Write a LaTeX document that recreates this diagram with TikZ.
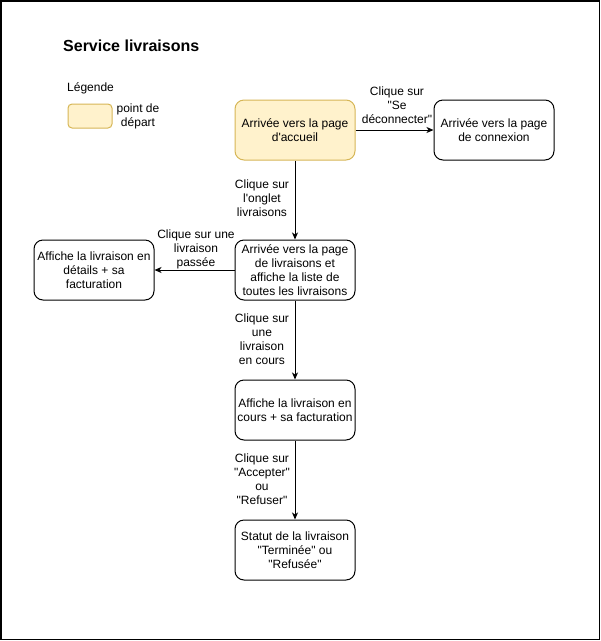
\documentclass[tikz,border=0pt]{standalone}
\usepackage{fontspec}
\setmainfont{Liberation Sans}
\usetikzlibrary{arrows.meta}
\definecolor{startfill}{HTML}{FFF2CC}
\definecolor{startdraw}{HTML}{D6B656}
\newcommand{\dq}{\textquotedbl}
\newcommand{\sq}{\textquotesingle}
\begin{document}
\begin{tikzpicture}[x=1pt,y=-1pt,
  every node/.style={font=\fontsize{12}{14}\selectfont, inner sep=0pt, align=center},
  box/.style={draw, line width=1pt, rounded corners=9pt, minimum width=120pt, minimum height=60pt},
  startbox/.style={box, fill=startfill, draw=startdraw},
  conn/.style={draw, line width=1pt, -{Stealth[length=7pt,width=6pt,inset=2pt]}},
  lbl/.style={font=\fontsize{12}{14}\selectfont}
]
\useasboundingbox (0,0) rectangle (601,641);
\draw[line width=1.5pt] (1,1) rectangle (599.5,639.5);

\node[font=\bfseries\fontsize{16}{19}\selectfont, anchor=west] (title) at (63,46) {Service livraisons};
\node[anchor=west] (leg) at (67,88) {Légende};
\node[draw=startdraw, fill=startfill, line width=1pt, rounded corners=4pt, minimum width=44pt, minimum height=24pt] (legbox) at (90,116) {};
\node (legtxt) at (138,116) {point de\\départ};

\node[startbox] (start) at (295,130) {Arrivée vers la page\\d\sq accueil};
\node[box] (connex) at (494,130) {Arrivée vers la page\\de connexion};
\node[box] (liste) at (295,270) {Arrivée vers la page\\de livraisons et\\affiche la liste de\\toutes les livraisons};
\node[box] (detail) at (94,270) {Affiche la livraison en\\détails + sa\\facturation};
\node[box] (encours) at (295,410) {Affiche la livraison en\\cours + sa facturation};
\node[box] (statut) at (295,550) {Statut de la livraison\\\dq Terminée\dq{} ou\\\dq Refusée\dq};

\draw[conn] (start) -- (connex);
\draw[conn] (start) -- (liste);
\draw[conn] (liste) -- (detail);
\draw[conn] (liste) -- (encours);
\draw[conn] (encours) -- (statut);

\node[lbl] (l1) at (397,105) {Clique sur\\\dq Se\\déconnecter\dq};
\node[lbl] (l2) at (262,198) {Clique sur\\l\sq onglet\\livraisons};
\node[lbl] (l3) at (196,249) {Clique sur une\\livraison\\passée};
\node[lbl] (l4) at (262,339) {Clique sur\\une\\livraison\\en cours};
\node[lbl] (l5) at (262,479) {Clique sur\\\dq Accepter\dq\\ou\\\dq Refuser\dq};
\end{tikzpicture}
\end{document}
